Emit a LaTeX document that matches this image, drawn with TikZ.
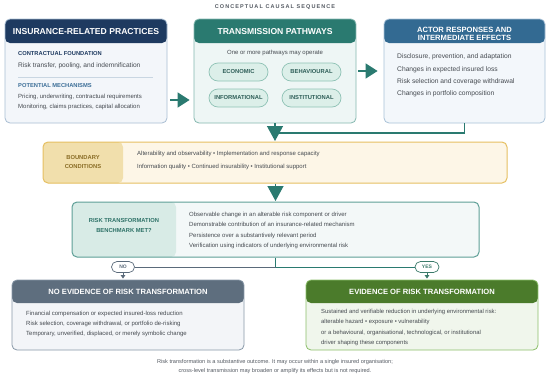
\documentclass[tikz,border=0pt]{standalone}
\usepackage{fontspec}
\setmainfont{Liberation Sans}
\usetikzlibrary{arrows.meta}
\definecolor{navy}{HTML}{1E3A60}
\definecolor{tealh}{HTML}{2A7A70}
\definecolor{blueh}{HTML}{336A92}
\definecolor{bonefill}{HTML}{F3F6FA}
\definecolor{boneline}{HTML}{A9BED3}
\definecolor{btwofill}{HTML}{EEF6F5}
\definecolor{btwoline}{HTML}{85B8B0}
\definecolor{bthrfill}{HTML}{F3F7FB}
\definecolor{bthrline}{HTML}{A9C2D8}
\definecolor{pillfill}{HTML}{DCEFE9}
\definecolor{pillline}{HTML}{8FC2B5}
\definecolor{pilltxt}{HTML}{2E5E58}
\definecolor{bodytxt}{HTML}{454A50}
\definecolor{subblue}{HTML}{3D6F98}
\definecolor{sepline}{HTML}{C9D6E2}
\definecolor{arrteal}{HTML}{2A7A70}
\definecolor{bndlab}{HTML}{F1DFAC}
\definecolor{bndfill}{HTML}{FDF6E7}
\definecolor{bndline}{HTML}{E6C062}
\definecolor{bndtxt}{HTML}{8A6D26}
\definecolor{bmklab}{HTML}{D8EBE6}
\definecolor{bmkfill}{HTML}{F3F8F8}
\definecolor{bmkline}{HTML}{5E9F97}
\definecolor{bmktxt}{HTML}{2E7268}
\definecolor{nohead}{HTML}{5E6E7E}
\definecolor{nofill}{HTML}{F3F5F8}
\definecolor{noline}{HTML}{8898A8}
\definecolor{yeshead}{HTML}{4B7B2B}
\definecolor{yesfill}{HTML}{F0F6EC}
\definecolor{yesline}{HTML}{8CBF6A}
\definecolor{yestxt}{HTML}{3B7A6A}
\definecolor{notxt}{HTML}{5A6A7A}
\definecolor{titletxt}{HTML}{555B63}
\tikzset{
  panel/.style={draw, rounded corners=5pt, line width=0.8pt, inner sep=0pt},
  hdrfill/.style 2 args={path picture={\fill[#1] (path picture bounding box.north west) rectangle ([yshift=-#2]path picture bounding box.north east);}},
  labfill/.style 2 args={path picture={\fill[#1] (path picture bounding box.north west) rectangle ([xshift=#2]path picture bounding box.south west);}},
  hdr/.style={font=\fontsize{8.6}{9}\selectfont\bfseries, text=white, inner sep=0pt, text height=6.2pt, text depth=0pt},
  hdrs/.style={font=\fontsize{7.6}{8}\selectfont\bfseries, text=white, inner sep=0pt, text height=5.4pt, text depth=0pt},
  sub/.style={font=\fontsize{5.75}{6}\selectfont\bfseries, inner sep=0pt, anchor=west, text height=4.1pt, text depth=0pt},
  body/.style={font=\fontsize{#1}{8}\selectfont, text=bodytxt, inner sep=0pt, anchor=west, text height=0.72*#1pt, text depth=0.2*#1pt},
  body/.default=6,
  pill/.style={draw=pillline, fill=pillfill, line width=0.7pt, rounded corners=9pt, minimum width=59pt, minimum height=18pt, inner sep=0pt, font=\fontsize{5.8}{6}\selectfont\bfseries, text=pilltxt},
  lab/.style={font=\fontsize{5.8}{6}\selectfont\bfseries, inner sep=0pt, text height=4.15pt, text depth=0pt},
  bigarr/.style={draw=arrteal, line width=1.4pt, -{Triangle[width=15pt,length=12pt]}, arrteal},
  downarr/.style={draw=arrteal, line width=1.4pt, -{Triangle[width=16pt,length=15pt]}, arrteal},
  tag/.style={draw, fill=white, line width=0.7pt, rounded corners=5.5pt, minimum width=24pt, minimum height=11pt, inner sep=0pt, font=\fontsize{5}{5}\selectfont\bfseries},
}
\begin{document}
\begin{tikzpicture}[x=1pt,y=-1pt]
\useasboundingbox[fill=white] (0,0) rectangle (550,378);

% title
\node[font=\fontsize{5.5}{6}\selectfont\bfseries\addfontfeatures{LetterSpace=20}, text=titletxt, inner sep=0pt] (title) at (275,7) {CONCEPTUAL CAUSAL SEQUENCE};

% ---------- top boxes
\node[panel, draw=boneline, fill=bonefill, minimum width=162pt, minimum height=104pt, hdrfill={navy}{24pt}] (b1) at (86,71) {};
\node[panel, draw=btwoline, fill=btwofill, minimum width=162pt, minimum height=104pt, hdrfill={tealh}{24pt}] (b2) at (275,71) {};
\node[panel, draw=bthrline, fill=bthrfill, minimum width=161pt, minimum height=104pt, hdrfill={blueh}{24pt}] (b3) at (464.5,71) {};

\node[hdr] (b1h) at (86,31) {INSURANCE-RELATED PRACTICES};
\node[hdr] (b2h) at (275,31) {TRANSMISSION PATHWAYS};
\node[hdrs] (b3ha) at (464.5,29.3) {ACTOR RESPONSES AND};
\node[hdrs] (b3hb) at (464.5,37.9) {INTERMEDIATE EFFECTS};

% box 1 content
\node[sub, text=navy] (b1s1) at (18,53) {CONTRACTUAL FOUNDATION};
\node[body=6.6] (b1t1) at (18,66) {Risk transfer, pooling, and indemnification};
\draw[sepline, line width=0.6pt] (18,77) -- (153,77);
\node[sub, text=subblue] (b1s2) at (18,85) {POTENTIAL MECHANISMS};
\node[body=6] (b1t2) at (18,97) {Pricing, underwriting, contractual requirements};
\node[body=6] (b1t3) at (18,107) {Monitoring, claims practices, capital allocation};

% box 2 content
\node[body=6, anchor=center] (b2t) at (275,53) {One or more pathways may operate};
\node[pill] (p1) at (238.5,72) {ECONOMIC};
\node[pill] (p2) at (311.5,72) {BEHAVIOURAL};
\node[pill] (p3) at (238.5,98) {INFORMATIONAL};
\node[pill] (p4) at (311.5,98) {INSTITUTIONAL};

% box 3 content
\foreach \t [count=\i] in {{Disclosure, prevention, and adaptation},{Changes in expected insured loss},{Risk selection and coverage withdrawal},{Changes in portfolio composition}}
  \node[body=6.7] (b3t\i) at (397,{57+12.4*(\i-1)}) {\t};

% arrows top
\draw[bigarr, shorten <=3pt, shorten >=4pt] ([yshift=-29pt]b1.east) -- ([yshift=-29pt]b2.west);
\draw[bigarr, shorten <=2pt, shorten >=6pt] (b2.east) -- (b3.west);

% ---------- boundary
\node[panel, draw=bndline, fill=bndfill, line width=1pt, minimum width=464pt, minimum height=41pt, labfill={bndlab}{80pt}] (bnd) at (275,162.5) {};
\node[lab, text=bndtxt] (bndl1) at (83,157) {BOUNDARY};
\node[lab, text=bndtxt] (bndl2) at (83,166) {CONDITIONS};
\node[body=6] (bndt1) at (137,154) {Alterability and observability \textbullet{} Implementation and response capacity};
\node[body=6] (bndt2) at (137,167) {Information quality \textbullet{} Continued insurability \textbullet{} Institutional support};

% joining line from box 3 and down arrow
\coordinate (j1) at (276,133);
\draw[arrteal, line width=1.2pt] (b3.south) |- (j1);
\draw[downarr, shorten >=0.5pt] (b2.south) -- (bnd.north);

% ---------- benchmark
\node[panel, draw=bmkline, fill=bmkfill, line width=1pt, minimum width=407pt, minimum height=55pt, labfill={bmklab}{104pt}] (bmk) at (275.5,229.5) {};
\node[lab, text=bmktxt] (bmkl1) at (124,220) {RISK TRANSFORMATION};
\node[lab, text=bmktxt] (bmkl2) at (124,230) {BENCHMARK MET?};
\foreach \t [count=\i] in {{Observable change in an alterable risk component or driver},{Demonstrable contribution of an insurance-related mechanism},{Persistence over a substantively relevant period},{Verification using indicators of underlying environmental risk}}
  \node[body=6] (bmkt\i) at (189,{215+10.3*(\i-1)}) {\t};

\draw[downarr, shorten >=0.5pt] (bnd.south -| bmk.north) -- (bmk.north);

% ---------- decision split
\coordinate (j2) at (275.5,267);
\node[tag, draw=notxt, text=notxt, minimum width=23pt] (no) at (123,267) {NO};
\node[tag, draw=yestxt, text=yestxt] (yes) at (427,267) {YES};
\draw[arrteal, line width=1pt] (bmk.south) -- (j2);
\draw[notxt, line width=0.8pt] (j2) -- (no.east);
\draw[arrteal, line width=0.8pt] (j2) -- (yes.west);

% ---------- outcome boxes
\node[panel, draw=noline, fill=nofill, minimum width=232pt, minimum height=70pt, hdrfill={nohead}{23pt}] (nob) at (128,315) {};
\node[panel, draw=yesline, fill=yesfill, minimum width=232pt, minimum height=70pt, hdrfill={yeshead}{23pt}] (yesb) at (422,315) {};
\draw[notxt, line width=0.8pt, -{Triangle[width=4.5pt,length=3.5pt]}, shorten >=1pt] (no.south) -- (no.south |- nob.north);
\draw[yestxt, line width=0.8pt, -{Triangle[width=4.5pt,length=3.5pt]}, shorten >=1pt] (yes.south) -- (yes.south |- yesb.north);

\node[hdrs] (nobh) at (128,292) {NO EVIDENCE OF RISK TRANSFORMATION};
\node[hdrs] (yesbh) at (422,292) {EVIDENCE OF RISK TRANSFORMATION};

\foreach \t [count=\i] in {{Financial compensation or expected insured-loss reduction},{Risk selection, coverage withdrawal, or portfolio de-risking},{Temporary, unverified, displaced, or merely symbolic change}}
  \node[body=6] (nobt\i) at (26,{314+10*(\i-1)}) {\t};
\foreach \t [count=\i] in {{Sustained and verifiable reduction in underlying environmental risk:},{alterable hazard \textbullet{} exposure \textbullet{} vulnerability},{or a behavioural, organisational, technological, or institutional},{driver shaping these components}}
  \node[body=5.9] (yesbt\i) at (321,{312+10.3*(\i-1)}) {\t};

% ---------- footer
\node[body=5.6, anchor=center, text=titletxt] (f1) at (275,362) {Risk transformation is a substantive outcome. It may occur within a single insured organisation;};
\node[body=5.6, anchor=center, text=titletxt] (f2) at (275,371) {cross-level transmission may broaden or amplify its effects but is not required.};
\end{tikzpicture}
\end{document}
